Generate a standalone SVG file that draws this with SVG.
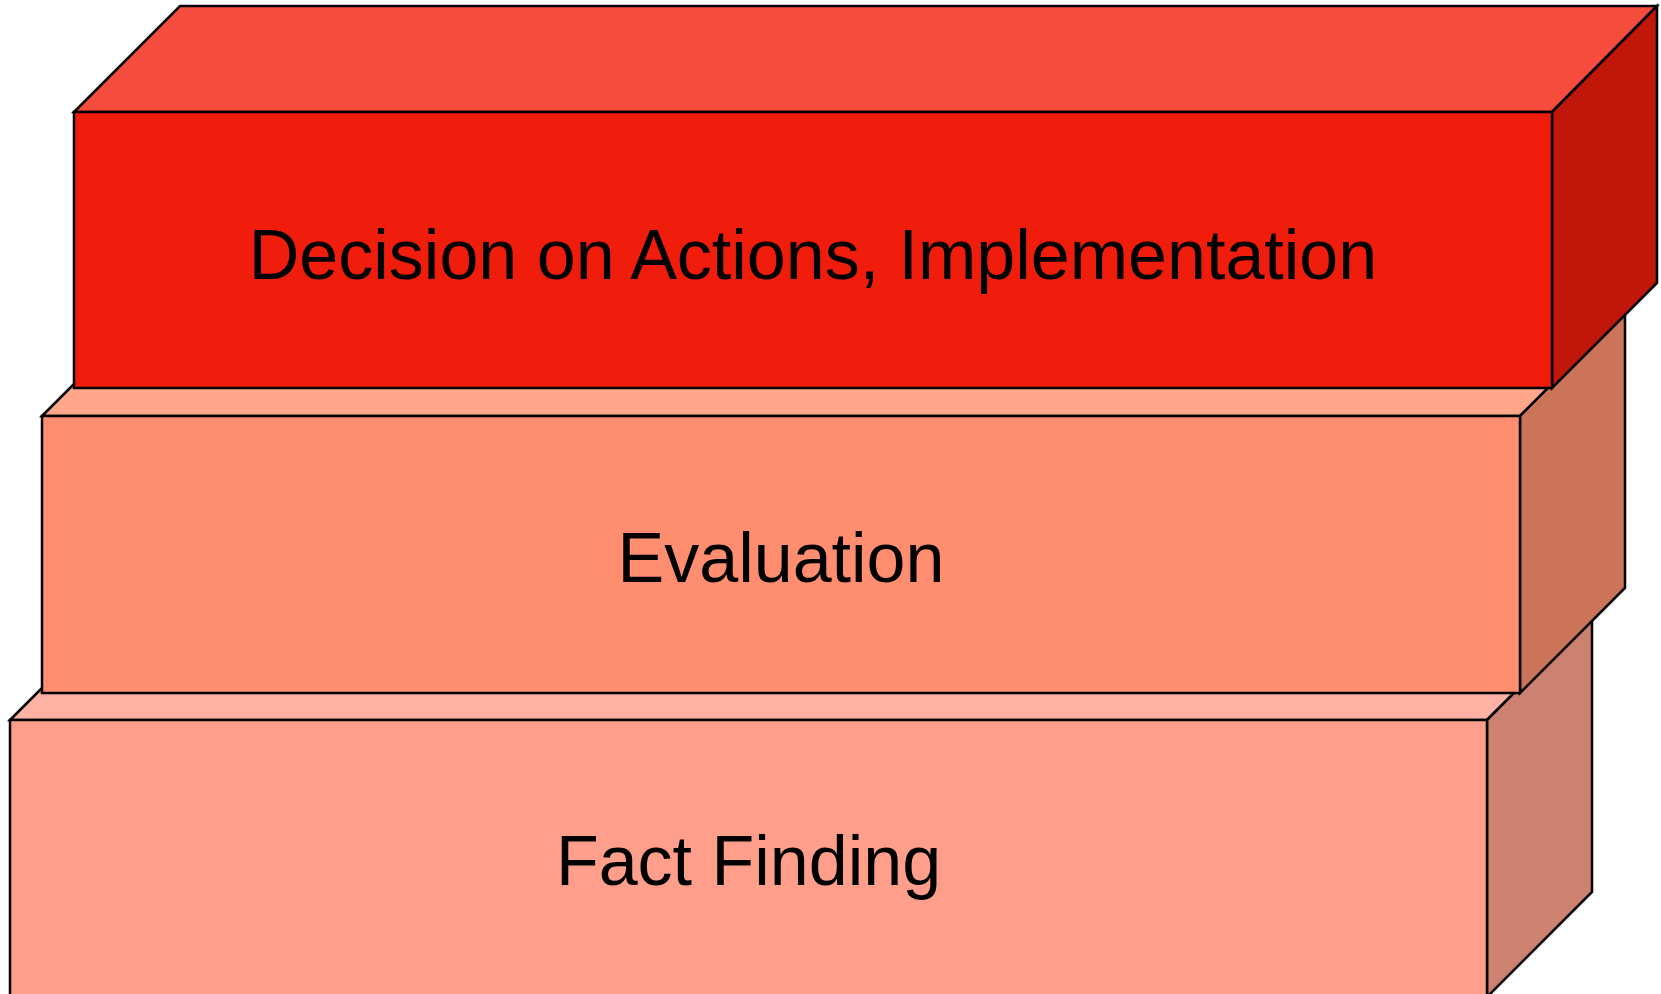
<svg xmlns="http://www.w3.org/2000/svg" width="1661" height="994" viewBox="0 0 1661 994">
<style>
.e{stroke:#000;stroke-width:2.5;stroke-linejoin:miter}
.t{font-family:"Liberation Sans",Arial,sans-serif;font-size:70px;fill:#000;text-anchor:middle}
</style>
<rect width="1661" height="994" fill="#fff"/>
<g id="fact-finding">
<polygon class="e" points="10,720 115,615 1592,615 1487,720" fill="#FFB2A3"/>
<polygon class="e" points="1487,720 1592,615 1592,892 1487,997" fill="#CC8171"/>
<rect class="e" x="10" y="720" width="1477" height="277" fill="#FF9E8A"/>
<text class="t" x="748.5" y="885">Fact Finding</text>
</g>
<g id="evaluation">
<polygon class="e" points="42,416 147,311 1625,311 1520,416" fill="#FFA68B"/>
<polygon class="e" points="1520,416 1625,311 1625,588 1520,693" fill="#CC7459"/>
<rect class="e" x="42" y="416" width="1478" height="277" fill="#FF8D6F"/>
<text class="t" x="781" y="582">Evaluation</text>
</g>
<g id="decision">
<polygon class="e" points="74,112 180,6 1657,6 1552,112" fill="#F64C3E"/>
<polygon class="e" points="1552,112 1657,6 1657,283 1552,388" fill="#C1170A"/>
<rect class="e" x="74" y="112" width="1478" height="276" fill="#F01C0C"/>
<text class="t" x="813" y="279">Decision on Actions, Implementation</text>
</g>
<g id="connectors"/>
</svg>
